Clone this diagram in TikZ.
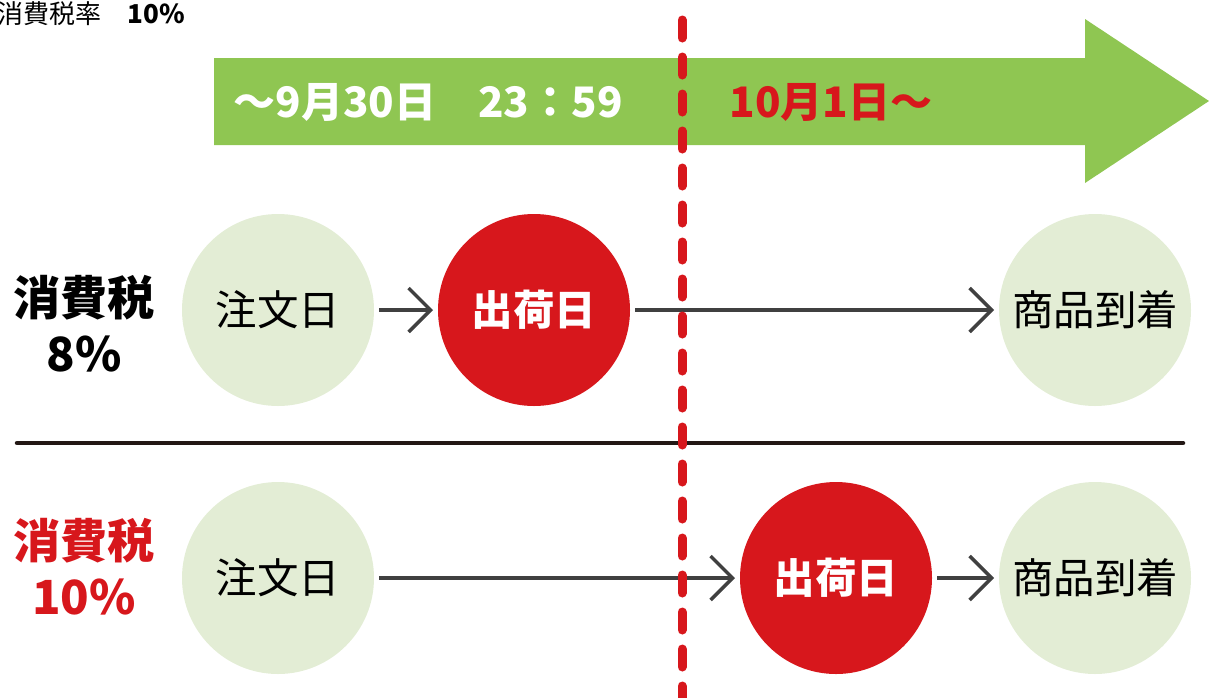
\documentclass[tikz,border=0pt]{standalone}
\usepackage{fontspec}
\setmainfont{Noto Sans CJK JP}
\usepackage{tikz}
\usetikzlibrary{arrows.meta}
\definecolor{bandgreen}{HTML}{8FC652}
\definecolor{palegreen}{HTML}{E3EDD5}
\definecolor{shipred}{HTML}{D7171C}
\definecolor{arrowgray}{HTML}{404040}
\definecolor{rulebrown}{HTML}{231815}
\newcommand{\fsz}[2]{\fontsize{#1pt}{#2pt}\selectfont}

\begin{document}
\begin{tikzpicture}[x=1pt, y=-1pt,
	day/.style = {circle, fill=palegreen, minimum size=192pt, inner sep=0pt, outer sep=5pt, font=\fsz{41.5}{48}},
	ship/.style = {day, fill=shipred, text=white, font=\fsz{41.5}{48}\bfseries},
	flow/.style = {draw=arrowgray, line width=3.5pt, -{Straight Barb[length=22pt, width=44pt]}},
	rate/.style = {align=center, font=\fsz{47}{56}\bfseries}]
					\useasboundingbox (0,0) rectangle (1209,697);
					\fill[bandgreen] (214,58) -- (1085,58) -- (1085,19) -- (1209,101) -- (1085,183) -- (1085,145) -- (214,145) -- cycle;
					\node[anchor=west, font=\fsz{26}{30}] (taxrate) at (-6,14) {消費税率　\textbf{10\%}};
					\node[anchor=west, text=white, font=\fsz{42}{48}\bfseries] (before) at (230,102) {～9月30日　23：59};
					\node[anchor=west, text=shipred, font=\fsz{42}{48}\bfseries] (after) at (726,102) {10月1日～};
					
					\node[rate] (tax8) at (84,324) {消費税\\8\%};
					\node[rate, text=shipred] (tax10) at (84,567) {消費税\\10\%};
					
					\node[day] (order1) at (278,310) {注文日};
					\node[ship] (ship1) at (534,310) {出荷日};
					\node[day] (arrive1) at (1095,310) {商品到着};
					\node[day] (order2) at (278,578) {注文日};
					\node[ship] (ship2) at (836,578) {出荷日};
					\node[day] (arrive2) at (1095,578) {商品到着};
					
					\draw[flow] (order1) -- (ship1);
					\draw[flow] (ship1) -- (arrive1);
					\draw[flow] (order2) -- (ship2);
					\draw[flow] (ship2) -- (arrive2);
					
					\coordinate (ruleL) at (17,443);
					\coordinate (ruleR) at (1183,443);
					\draw[rulebrown, line width=4.5pt, line cap=round] (ruleL) -- (ruleR);
					
					\coordinate (cutT) at (682,20);
					\coordinate (cutB) at (682,700);
					\draw[shipred, line width=9pt, line cap=round, dash pattern=on 18pt off 19pt] (cutT) -- (cutB);
				\end{tikzpicture}
\end{document}
